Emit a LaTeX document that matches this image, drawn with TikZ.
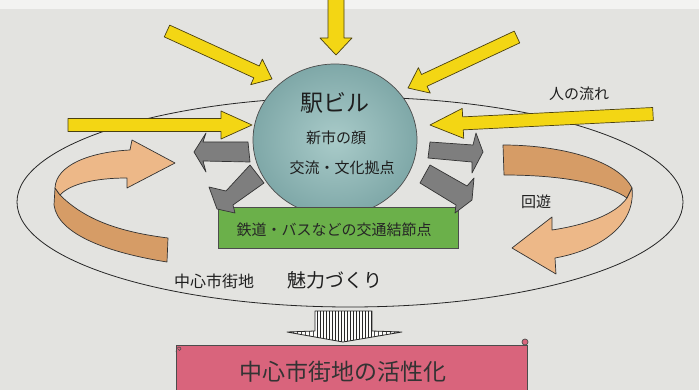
\documentclass[tikz,border=0pt]{standalone}
\usepackage{fontspec}
\setmainfont{Noto Sans CJK JP}
\usetikzlibrary{calc,shapes.geometric}
\definecolor{paper}{HTML}{E3E3E0}
\definecolor{ylw}{HTML}{F3D614}
\definecolor{ylwline}{HTML}{4A4010}
\definecolor{grayarr}{HTML}{7E7E7E}
\definecolor{teal1}{HTML}{A9CBC9}
\definecolor{teal2}{HTML}{7FA8A8}
\definecolor{greenbox}{HTML}{6BB04A}
\definecolor{orangeA}{HTML}{EDB888}
\definecolor{orangeB}{HTML}{D69C66}
\definecolor{pinkbox}{HTML}{D9647C}
\definecolor{txt}{HTML}{1E1E1E}
\newcommand{\blockarrow}[6]{%
  \coordinate (bah) at ($(#3)!#6!(#2)$);
  \draw[#1] ($(#2)!#4!90:(#3)$) -- ($(bah)!#4!-90:(#2)$) -- ($(bah)!#5!-90:(#2)$) -- (#3)
     -- ($(bah)!#5!90:(#2)$) -- ($(bah)!#4!90:(#2)$) -- ($(#2)!#4!-90:(#3)$) -- cycle;}
\tikzset{
  yarrow/.style={fill=ylw, draw=ylwline, line width=0.7pt, line join=round},
  garrow/.style={fill=grayarr, draw=black!80, line width=0.7pt, line join=round},
  ribbonA/.style={fill=orangeA, draw=black!80, line width=0.7pt, line join=round},
  ribbonB/.style={fill=orangeB, draw=black!80, line width=0.7pt, line join=round},
  lbl/.style={text=txt, inner sep=0pt, font=\fontsize{15}{15}\selectfont}
}
\begin{document}
\begin{tikzpicture}[x=1pt,y=-1pt]
\useasboundingbox (0,0) rectangle (699,390);
\fill[paper] (0,0) rectangle (699,390);
\fill[white!55!paper] (0,0) rectangle (699,9);

% big ellipse (central city area)
\draw[black!85, line width=0.8pt] (350,202) ellipse [x radius=333, y radius=105];

% station building circle
\node[ellipse, draw=black!70, line width=0.7pt, inner color=teal1, outer color=teal2,
      minimum width=164pt, minimum height=152pt] (eki) at (335,140) {};
\node[lbl, font=\fontsize{23}{23}\selectfont] (ekit) at (335,103) {駅ビル};
\node[lbl] (kao) at (336,138) {新市の顔};
\node[lbl] (kyoten) at (342,168) {交流・文化拠点};

% green box
\node[draw=black!70, fill=greenbox, line width=0.7pt, minimum width=240pt, minimum height=41pt,
      inner sep=0pt] (green) at (338,227.5) {};
\node[lbl, text=black!85] (greent) at (334,230) {鉄道・バスなどの交通結節点};

% yellow arrows
\coordinate (y1a) at (336,-3);  \coordinate (y1b) at (336,55);
\coordinate (y2a) at (167,31);  \coordinate (y2b) at (272,79);
\coordinate (y3a) at (517,37);  \coordinate (y3b) at (408,88);
\coordinate (y4a) at (68,125);  \coordinate (y4b) at (252,125);
\coordinate (y5a) at (653,114); \coordinate (y5b) at (430,125);
\blockarrow{yarrow}{y1a}{y1b}{8pt}{16pt}{17pt}
\blockarrow{yarrow}{y2a}{y2b}{6.5pt}{14pt}{17pt}
\blockarrow{yarrow}{y3a}{y3b}{6.5pt}{14pt}{18pt}
\blockarrow{yarrow}{y4a}{y4b}{6.5pt}{14pt}{31pt}
\blockarrow{yarrow}{y5a}{y5b}{6.5pt}{15pt}{33pt}

% gray arrows
\draw[garrow] (248,142) -- (203,142) -- (206,133) -- (194,152) -- (206,172) -- (203,161) -- (250,162) -- cycle;
\draw[garrow] (430,142) -- (473,145) -- (476,133) -- (483,152) -- (472,173) -- (472,162) -- (428,158) -- cycle;
\draw[garrow] (250,165) -- (264,183) -- (233,205) -- (235,213) -- (217,209) -- (209,187) -- (226,191) -- cycle;
\draw[garrow] (430,165) -- (467,186) -- (474,178) -- (472,200) -- (455,213) -- (456,205) -- (420,183) -- cycle;

% left orange ribbon
\draw[ribbonB] (60,195) .. controls (85,220) and (120,232) .. (168,238) -- (167,262)
   .. controls (110,253) and (58,235) .. (54,205) -- (55,188) -- cycle;
\draw[ribbonA] (55,188) .. controls (56,165) and (90,152) .. (130,150) -- (132,140) -- (175,163)
   -- (127,188) -- (127,178) .. controls (95,178) and (70,184) .. (60,195) -- cycle;

% right orange ribbon
\draw[ribbonB] (503,145) .. controls (560,145) and (618,160) .. (632,188) -- (627,198)
   .. controls (610,186) and (570,175) .. (504,175) -- cycle;
\draw[ribbonA] (632,188) .. controls (636,225) and (600,250) .. (555,258) -- (556,274) -- (512,248)
   -- (552,217) -- (552,230) .. controls (585,225) and (615,215) .. (627,198) -- cycle;

% labels
\node[lbl] (flow) at (579,94) {人の流れ};
\node[lbl] (kaiyu) at (536,202) {回遊};
\node[lbl, font=\fontsize{16}{16}\selectfont] (chushin) at (214,281) {中心市街地};
\node[lbl, font=\fontsize{19}{19}\selectfont] (miryoku) at (335,280) {魅力づくり};

% striped down arrow
\begin{scope}
  \clip (315,311) -- (372,311) -- (372,331) -- (402,332) -- (343,342) -- (287,332) -- (315,331) -- cycle;
  \fill[white!85!paper] (280,305) rectangle (410,345);
  \foreach \x in {317,320,...,371} \draw[black!85, line width=0.6pt] (\x,305) -- (\x,345);
  \foreach \x in {289,293,...,313} \draw[black!70, line width=0.5pt] (\x,330) -- (\x,345);
  \foreach \x in {374,378,...,400} \draw[black!70, line width=0.5pt] (\x,330) -- (\x,345);
\end{scope}
\draw[black!85, line width=0.8pt, line join=round] (315,311) -- (372,311) -- (372,331) -- (402,332)
   -- (343,342) -- (287,332) -- (315,331) -- cycle;
\coordinate (downarr) at (343,342);

% pink banner
\node[draw=black!70, fill=pinkbox, line width=0.8pt, minimum width=351pt, minimum height=52pt,
      inner sep=0pt, anchor=north west] (banner) at (176,345) {};
\draw[black!70, line width=0.7pt, fill=pinkbox] (525,342) circle [radius=3];
\draw[black!70, line width=0.6pt] (176,352) .. controls (176,346) and (181,346) .. (181,349) .. controls (181,351) and (178,351) .. (178,349);
\node[lbl, text=black!80, font=\fontsize{23}{23}\selectfont] (kasseika) at (343,372) {中心市街地の活性化};
\end{tikzpicture}
\end{document}
